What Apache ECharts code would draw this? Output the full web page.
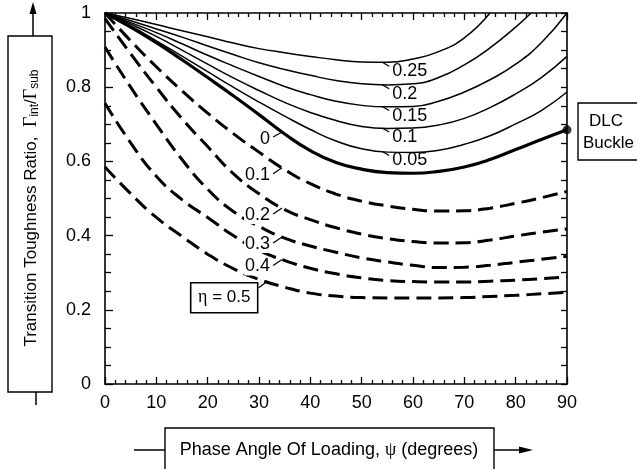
<!DOCTYPE html>
<html>
<head>
<meta charset="utf-8">
<script src="https://cdn.jsdelivr.net/npm/echarts@6/dist/echarts.min.js"></script>
<style>
  html, body { margin: 0; padding: 0; background: #fff; }
  #chart { width: 637px; height: 469px; }
</style>
</head>
<body>
<div id="chart"></div>
<script>
// Phase angle of loading, psi (degrees)
const psi = [0, 5, 10, 15, 20, 25, 30, 35, 40, 45, 50, 55, 60, 65, 70, 75, 80, 85, 90];
const psiTop025 = [0, 5, 10, 15, 20, 25, 30, 35, 40, 45, 50, 55, 60, 65, 70, 75];
const psiTop020 = [0, 5, 10, 15, 20, 25, 30, 35, 40, 45, 50, 55, 60, 65, 70, 75, 80, 83];

// Solid family (thin), labelled 0.25 ... 0.05
const solid025 = [1.0, 0.985, 0.969, 0.952, 0.936, 0.919, 0.904, 0.893, 0.883, 0.874, 0.868, 0.867, 0.876, 0.896, 0.933, 1.0];
const solid020 = [1.0, 0.979, 0.957, 0.935, 0.911, 0.888, 0.866, 0.848, 0.832, 0.818, 0.809, 0.806, 0.809, 0.826, 0.860, 0.906, 0.962, 1.0];
const solid015 = [1.0, 0.974, 0.947, 0.917, 0.886, 0.857, 0.829, 0.802, 0.780, 0.762, 0.751, 0.747, 0.748, 0.762, 0.787, 0.820, 0.862, 0.920, 1.0];
const solid010 = [1.0, 0.970, 0.937, 0.900, 0.862, 0.825, 0.791, 0.759, 0.732, 0.710, 0.694, 0.689, 0.690, 0.698, 0.716, 0.745, 0.782, 0.826, 0.883];
const solid005 = [1.0, 0.965, 0.925, 0.884, 0.842, 0.800, 0.760, 0.722, 0.686, 0.655, 0.634, 0.625, 0.624, 0.630, 0.646, 0.669, 0.701, 0.737, 0.787];
// Heavy solid curve, eta = 0, ending at the DLC buckle point
const eta0 = [1.0, 0.962, 0.920, 0.874, 0.826, 0.777, 0.726, 0.674, 0.629, 0.597, 0.579, 0.570, 0.568, 0.573, 0.585, 0.605, 0.632, 0.659, 0.685];

// Dashed family, eta = 0.1 ... 0.5
const eta01 = [1.0, 0.925, 0.855, 0.790, 0.730, 0.675, 0.625, 0.578, 0.540, 0.512, 0.493, 0.480, 0.471, 0.466, 0.467, 0.474, 0.487, 0.502, 0.519];
const eta02 = [0.985, 0.890, 0.800, 0.715, 0.640, 0.567, 0.513, 0.470, 0.443, 0.421, 0.404, 0.392, 0.384, 0.380, 0.381, 0.388, 0.399, 0.409, 0.418];
const eta03 = [0.908, 0.800, 0.700, 0.605, 0.525, 0.465, 0.425, 0.393, 0.372, 0.355, 0.340, 0.329, 0.320, 0.314, 0.315, 0.320, 0.328, 0.336, 0.344];
const eta04 = [0.757, 0.650, 0.560, 0.497, 0.449, 0.400, 0.360, 0.333, 0.312, 0.297, 0.286, 0.279, 0.276, 0.275, 0.275, 0.277, 0.280, 0.284, 0.289];
const eta05 = [0.585, 0.513, 0.449, 0.398, 0.350, 0.311, 0.282, 0.261, 0.245, 0.237, 0.233, 0.232, 0.232, 0.232, 0.233, 0.236, 0.239, 0.243, 0.247];

const xTicks = { min: 0, max: 90, step: 10 };
const yTicks = { min: 0, max: 1, step: 0.2 };

const solidLabels = ['0.25', '0.2', '0.15', '0.1', '0.05'];
const dashedLabels = ['0.1', '0.2', '0.3', '0.4'];

const FONT = '"Liberation Sans", Arial, Helvetica, sans-serif';
const SERIF = '"Liberation Serif", "DejaVu Serif", serif';

function pairs(xs, ys) { return ys.map((y, i) => [xs[i], y]); }
function valueAt(xs, ys, x) {
  for (let i = 1; i < xs.length; i++) {
    if (x <= xs[i]) {
      const t = (x - xs[i - 1]) / (xs[i] - xs[i - 1]);
      return ys[i - 1] + t * (ys[i] - ys[i - 1]);
    }
  }
  return ys[ys.length - 1];
}

const chart = echarts.init(document.getElementById('chart'), null, { renderer: 'canvas' });

function lineSeries(name, xs, ys, width, dashed) {
  return {
    name, type: 'line', data: pairs(xs, ys), smooth: 0.5, showSymbol: false,
    silent: true, clip: true,
    lineStyle: { color: '#000', width, type: dashed ? [15, 7] : 'solid', cap: 'butt' }
  };
}

const axisLine = { show: true, onZero: false, lineStyle: { color: '#000', width: 1.6 } };
const tickStyle = { color: '#000', width: 1.3 };

chart.setOption({
  animation: false,
  backgroundColor: '#fff',
  grid: { left: 105, right: 70, top: 13, bottom: 85 },
  xAxis: [
    {
      type: 'value', position: 'bottom', min: xTicks.min, max: xTicks.max, interval: xTicks.step,
      axisLine,
      axisTick: { show: true, inside: true, length: 7, lineStyle: tickStyle },
      minorTick: { show: true, splitNumber: 5, length: 4, lineStyle: tickStyle },
      splitLine: { show: false },
      axisLabel: { color: '#000', fontSize: 18, fontFamily: FONT, margin: 10 }
    },
    {
      type: 'value', position: 'top', min: xTicks.min, max: xTicks.max, interval: xTicks.step,
      axisLine,
      axisTick: { show: true, inside: true, length: 7, lineStyle: tickStyle },
      minorTick: { show: true, splitNumber: 5, length: 4, lineStyle: tickStyle },
      splitLine: { show: false },
      axisLabel: { show: false }
    }
  ],
  yAxis: [
    {
      type: 'value', position: 'left', min: yTicks.min, max: yTicks.max, interval: yTicks.step,
      axisLine,
      axisTick: { show: true, inside: true, length: 8, lineStyle: tickStyle },
      minorTick: { show: true, splitNumber: 4, length: 6, lineStyle: tickStyle },
      splitLine: { show: false },
      axisLabel: { color: '#000', fontSize: 18, fontFamily: FONT, margin: 14 }
    },
    {
      type: 'value', position: 'right', min: yTicks.min, max: yTicks.max, interval: yTicks.step,
      axisLine,
      axisTick: { show: true, inside: true, length: 6, lineStyle: tickStyle },
      minorTick: { show: true, splitNumber: 4, length: 6, lineStyle: tickStyle },
      splitLine: { show: false },
      axisLabel: { show: false }
    }
  ],
  series: [
    lineSeries('0.25', psiTop025, solid025, 1.5, false),
    lineSeries('0.2', psiTop020, solid020, 1.5, false),
    lineSeries('0.15', psi, solid015, 1.5, false),
    lineSeries('0.1s', psi, solid010, 1.5, false),
    lineSeries('0.05', psi, solid005, 1.5, false),
    lineSeries('eta 0', psi, eta0, 3.2, false),
    lineSeries('eta 0.1', psi, eta01, 3, true),
    lineSeries('eta 0.2', psi, eta02, 3, true),
    lineSeries('eta 0.3', psi, eta03, 3, true),
    lineSeries('eta 0.4', psi, eta04, 3, true),
    lineSeries('eta 0.5', psi, eta05, 3, true),
    {
      name: 'DLC buckle', type: 'scatter', silent: true, clip: false,
      data: [[psi[psi.length - 1], eta0[eta0.length - 1]]],
      symbol: 'circle', symbolSize: 9, itemStyle: { color: '#000' }
    }
  ]
});

// Curve labels and frame annotations, placed from data coordinates
const toPx = (x, y) => chart.convertToPixel({ gridIndex: 0 }, [x, y]);
const g = [];
const stroke = { stroke: '#000', lineWidth: 1.2 };
const LBL = '18px ' + FONT;

const solidSets = [[psiTop025, solid025], [psiTop020, solid020], [psi, solid015], [psi, solid010], [psi, solid005]];
solidSets.forEach(([xs, ys], i) => {
  const p = toPx(54, valueAt(xs, ys, 54));
  g.push({ type: 'line', shape: { x1: p[0], y1: p[1], x2: p[0] + 7, y2: p[1] + 4 }, style: stroke, z: 10 });
  g.push({ type: 'text', x: p[0] + 10, y: p[1] + 9, z: 10,
    style: { text: solidLabels[i], font: LBL, fill: '#000', align: 'left', verticalAlign: 'middle' } });
});

const dashedSets = [eta01, eta02, eta03, eta04];
dashedSets.forEach((ys, i) => {
  const p = toPx(34.5, valueAt(psi, ys, 34.5));
  g.push({ type: 'line', shape: { x1: p[0], y1: p[1], x2: p[0] - 9, y2: p[1] + 6 }, style: stroke, z: 10 });
  g.push({ type: 'text', x: p[0] - 11, y: p[1] + 7, z: 10,
    style: { text: dashedLabels[i], font: LBL, fill: '#000', align: 'right', verticalAlign: 'middle',
      backgroundColor: '#fff', padding: [0, 1, 0, 1] } });
});

// eta = 0 label on the heavy curve
(function () {
  const p = toPx(34.5, valueAt(psi, eta0, 34.5));
  g.push({ type: 'line', shape: { x1: p[0], y1: p[1], x2: p[0] - 9, y2: p[1] + 5 }, style: stroke, z: 10 });
  g.push({ type: 'text', x: p[0] - 17, y: p[1] + 7, z: 10,
    style: { text: '0', font: LBL, fill: '#000', align: 'center', verticalAlign: 'middle' } });
})();

// eta = 0.5 boxed label
(function () {
  const p = toPx(31.5, valueAt(psi, eta05, 31.5));
  g.push({ type: 'line', shape: { x1: p[0], y1: p[1], x2: p[0] - 8, y2: p[1] + 6 }, style: stroke, z: 10 });
  const bx = p[0] - 76, by = p[1] + 1;
  g.push({ type: 'rect', shape: { x: bx, y: by, width: 67, height: 30 }, style: { fill: '#fff', stroke: '#000', lineWidth: 1.6 }, z: 10 });
  g.push({ type: 'text', x: bx + 33.5, y: by + 15, z: 11,
    style: { text: '{s|η} = 0.5', font: '17px ' + FONT, fill: '#000', align: 'center', verticalAlign: 'middle',
      rich: { s: { fontFamily: SERIF, fontSize: 18 } } } });
})();

// DLC buckle callout
g.push({ type: 'rect', shape: { x: 578, y: 103, width: 70, height: 57 }, style: { fill: '#fff', stroke: '#000', lineWidth: 1.4 } });
g.push({ type: 'text', x: 606, y: 121, style: { text: 'DLC', font: '17px ' + FONT, fill: '#000', align: 'center', verticalAlign: 'middle' } });
g.push({ type: 'text', x: 583, y: 143, style: { text: 'Buckle', font: '17px ' + FONT, fill: '#000', align: 'left', verticalAlign: 'middle' } });

// Y axis title box with arrow
g.push({ type: 'rect', shape: { x: 8, y: 36, width: 44, height: 356 }, style: { fill: '#fff', stroke: '#000', lineWidth: 1.4 } });
g.push({ type: 'line', shape: { x1: 33, y1: 36, x2: 33, y2: 10 }, style: { stroke: '#000', lineWidth: 1.5 } });
g.push({ type: 'polygon', shape: { points: [[33, 2], [29.5, 14], [36.5, 14]] }, style: { fill: '#000' } });
g.push({ type: 'line', shape: { x1: 36, y1: 392, x2: 36, y2: 405 }, style: { stroke: '#000', lineWidth: 1.5 } });
g.push({ type: 'text', x: 31, y: 208, rotation: Math.PI / 2,
  style: { text: 'Transition Toughness Ratio,  {g|Γ}{sub|int}/{g|Γ}{sub|sub}', font: '17px ' + FONT, fill: '#000',
    align: 'center', verticalAlign: 'middle',
    rich: { g: { fontFamily: SERIF, fontSize: 18 }, sub: { fontSize: 12, fontFamily: FONT, verticalAlign: 'bottom', padding: [7, 0, 0, 0] } } } });

// X axis title box with arrow
g.push({ type: 'rect', shape: { x: 165, y: 428, width: 329, height: 50 }, style: { fill: '#fff', stroke: '#000', lineWidth: 1.4 } });
g.push({ type: 'line', shape: { x1: 134, y1: 450, x2: 165, y2: 450 }, style: { stroke: '#000', lineWidth: 1.5 } });
g.push({ type: 'line', shape: { x1: 494, y1: 450, x2: 522, y2: 450 }, style: { stroke: '#000', lineWidth: 1.5 } });
g.push({ type: 'polygon', shape: { points: [[533, 450], [519, 446.5], [519, 453.5]] }, style: { fill: '#000' } });
g.push({ type: 'text', x: 329, y: 450,
  style: { text: 'Phase Angle Of Loading, {s|ψ} (degrees)', font: '18px ' + FONT, fill: '#000', align: 'center', verticalAlign: 'middle',
    rich: { s: { fontFamily: SERIF, fontSize: 18 } } } });

chart.setOption({ graphic: g });
</script>
</body>
</html>
